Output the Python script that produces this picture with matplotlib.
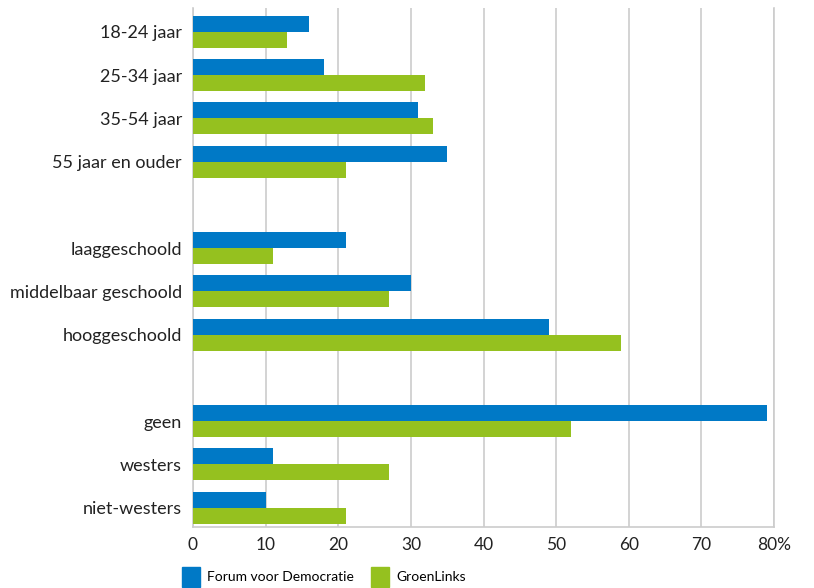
import numpy as np
import matplotlib.pyplot as plt
from matplotlib.patches import Patch

# categorie (stringa vuota = spazio tra i gruppi)
categorie = ["18-24 jaar", "25-34 jaar", "35-54 jaar", "55 jaar en ouder", "",
             "laaggeschoold", "middelbaar geschoold", "hooggeschoold", "",
             "geen", "westers", "niet-westers"]
fvd = [16, 18, 31, 35, None, 21, 30, 49, None, 79, 11, 10]
gl = [13, 32, 33, 21, None, 11, 27, 59, None, 52, 27, 21]
tick_x = [0, 10, 20, 30, 40, 50, 60, 70, 80]
tick_lab = ["0", "10", "20", "30", "40", "50", "60", "70", "80%"]

blu = "#0079c6"
verde = "#95c11f"

plt.rcParams['font.family'] = ['Lato', 'DejaVu Sans']

fig = plt.figure(figsize=(8.14, 5.88), dpi=100)
ax = fig.add_axes([193/814, 1-527/588, (774-193)/814, (527-8)/588])

pos = [i for i, c in enumerate(categorie) if c != ""]
h = 0.37
ax.barh([p - h/2 for p in pos], [fvd[p] for p in pos], height=h, color=blu, zorder=3)
ax.barh([p + h/2 for p in pos], [gl[p] for p in pos], height=h, color=verde, zorder=3)

ax.set_yticks(pos)
ax.set_yticklabels([categorie[p] for p in pos], fontsize=13, color="#222222")
ax.set_ylim(11.45, -0.55)
ax.set_xlim(0, 80)
ax.set_xticks(tick_x)
ax.set_xticklabels(tick_lab, fontsize=12.5, color="#222222")
ax.tick_params(axis='y', length=0, pad=8)
ax.tick_params(axis='x', length=0, pad=7)
ax.grid(axis='x', color="#cccccc", linewidth=1.2, zorder=0)
for s in ['left', 'right', 'bottom']:
    ax.spines[s].set_color("#cccccc")
    ax.spines[s].set_linewidth(1.2)
ax.spines['top'].set_visible(False)

handles = [Patch(color=blu, label="Forum voor Democratie"), Patch(color=verde, label="GroenLinks")]
fig.legend(handles=handles, loc='lower left', bbox_to_anchor=(169/814, -0.02), ncol=2,
           frameon=False, fontsize=10, handlelength=1.3, handleheight=1.9,
           columnspacing=1.2, handletextpad=0.55)

fig.savefig("out.png")
